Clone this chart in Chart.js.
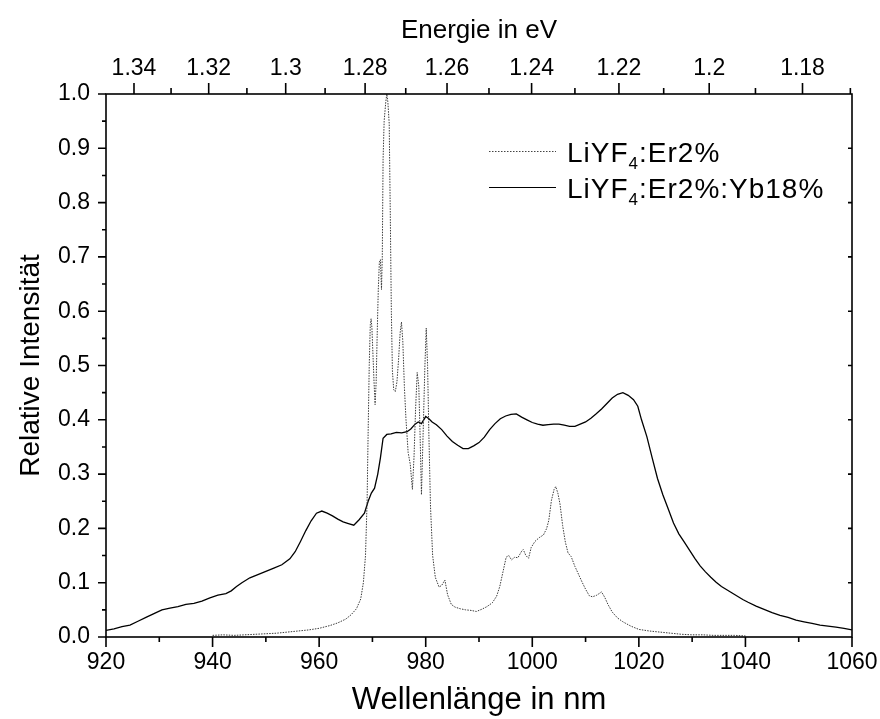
<!DOCTYPE html>
<html>
<head>
<meta charset="utf-8">
<script src="https://cdn.jsdelivr.net/npm/chart.js@4"></script>
<style>
  html, body { margin: 0; padding: 0; background: #fff; }
  #wrap { width: 880px; height: 719px; }
</style>
</head>
<body>
<div id="wrap"><canvas id="c" width="880" height="719"></canvas></div>
<script>
// ---- Data ----
const yb18_nm = [920.0,921.5,923.0,924.5,926.0,927.5,929.0,930.5,932.0,933.5,935.0,936.5,938.0,939.5,941.0,942.5,943.5,944.5,945.5,947.0,948.5,950.0,951.5,953.0,954.5,955.5,956.5,957.5,958.5,959.5,960.5,961.5,962.5,963.5,964.5,965.5,966.5,967.5,968.5,969.2,969.8,970.4,971.0,971.5,972.0,972.7,973.5,974.5,975.5,976.5,977.2,978.0,978.6,979.2,980.0,980.6,981.2,982.0,983.0,984.0,985.0,986.0,987.0,988.0,989.0,990.0,991.0,992.0,993.0,994.0,995.0,996.0,997.0,998.0,999.0,1000.0,1001.0,1002.0,1003.0,1004.0,1005.0,1006.0,1007.0,1008.0,1009.0,1010.0,1011.0,1012.0,1013.0,1014.0,1015.0,1016.0,1017.0,1018.0,1019.0,1019.8,1020.5,1021.5,1022.5,1023.5,1024.5,1025.5,1026.5,1027.5,1028.5,1029.5,1030.5,1031.5,1032.5,1033.5,1034.5,1035.5,1036.5,1037.5,1038.5,1039.5,1040.5,1042.0,1043.5,1045.0,1046.5,1048.0,1049.5,1051.0,1052.5,1054.0,1055.5,1057.0,1058.5,1060.0];
const yb18_val = [0.012,0.015,0.019,0.022,0.029,0.036,0.043,0.050,0.053,0.056,0.060,0.062,0.066,0.072,0.077,0.080,0.085,0.093,0.100,0.109,0.115,0.121,0.127,0.133,0.144,0.157,0.176,0.196,0.214,0.228,0.232,0.228,0.223,0.217,0.212,0.209,0.206,0.216,0.228,0.250,0.265,0.274,0.300,0.330,0.366,0.373,0.374,0.377,0.376,0.378,0.383,0.392,0.396,0.393,0.406,0.402,0.396,0.391,0.382,0.370,0.360,0.353,0.347,0.347,0.352,0.358,0.368,0.382,0.393,0.402,0.407,0.410,0.411,0.405,0.400,0.395,0.392,0.390,0.391,0.392,0.392,0.390,0.388,0.388,0.392,0.396,0.403,0.411,0.420,0.430,0.440,0.447,0.450,0.445,0.437,0.425,0.400,0.369,0.330,0.292,0.262,0.236,0.210,0.190,0.175,0.160,0.145,0.131,0.120,0.110,0.101,0.093,0.087,0.081,0.075,0.069,0.064,0.057,0.051,0.045,0.040,0.036,0.031,0.028,0.025,0.022,0.020,0.018,0.016,0.013];

const er2_nm = [940,942,944,946,948,950,952,954,956,958,960,962,963.5,965,966,967,967.8,968.3,968.7,969.0,969.2,969.4,969.6,969.75,969.9,970.1,970.3,970.5,970.7,970.9,971.1,971.3,971.5,971.7,971.85,972.0,972.2,972.5,972.7,972.9,973.15,973.35,973.55,973.75,974.0,974.3,974.6,974.9,975.2,975.45,975.7,976.0,976.3,976.7,977.1,977.5,977.8,978.1,978.4,978.7,978.95,979.2,979.5,979.85,980.1,980.35,980.6,980.9,981.3,981.8,982.5,983.0,983.6,984.1,984.8,985.5,986.5,987.5,988.5,989.5,990.5,991.5,992.5,993.3,993.9,994.5,995.1,995.6,996.1,996.7,997.3,998.0,998.3,998.8,999.3,999.8,1000.5,1001.3,1002.1,1002.7,1003.1,1003.6,1004.1,1004.4,1004.8,1005.2,1005.7,1006.2,1006.7,1007.3,1008.0,1008.7,1009.4,1010.0,1010.7,1011.3,1012.1,1013.0,1013.6,1014.2,1015.0,1016.0,1017.0,1018.5,1020,1022,1024,1026,1028,1030,1032,1034,1036,1038,1040];
const er2_val = [0.003,0.004,0.003,0.004,0.005,0.006,0.007,0.009,0.011,0.013,0.016,0.021,0.026,0.033,0.041,0.052,0.070,0.100,0.150,0.250,0.380,0.500,0.575,0.586,0.570,0.520,0.470,0.428,0.470,0.560,0.640,0.690,0.695,0.640,0.700,0.880,0.950,0.985,1.000,0.985,0.945,0.780,0.600,0.490,0.455,0.452,0.470,0.510,0.560,0.580,0.545,0.460,0.400,0.340,0.318,0.272,0.330,0.420,0.487,0.462,0.370,0.262,0.370,0.500,0.569,0.500,0.370,0.240,0.150,0.110,0.092,0.095,0.105,0.078,0.060,0.055,0.052,0.050,0.049,0.047,0.051,0.056,0.063,0.075,0.093,0.120,0.147,0.150,0.142,0.147,0.146,0.158,0.161,0.150,0.145,0.165,0.176,0.183,0.188,0.200,0.215,0.252,0.272,0.277,0.265,0.245,0.205,0.175,0.155,0.148,0.130,0.115,0.100,0.088,0.076,0.074,0.077,0.083,0.073,0.060,0.046,0.035,0.028,0.020,0.014,0.011,0.009,0.007,0.005,0.004,0.004,0.003,0.003,0.003,0.002];

const seriesNames = ['LiYF4:Er2%', 'LiYF4:Er2%:Yb18%'];
const wlTicks = [920, 940, 960, 980, 1000, 1020, 1040, 1060];
const wlMinor = [930, 950, 970, 990, 1010, 1030, 1050];
const intTicks = [0.0, 0.1, 0.2, 0.3, 0.4, 0.5, 0.6, 0.7, 0.8, 0.9, 1.0];
const eTicks = [1.34, 1.32, 1.30, 1.28, 1.26, 1.24, 1.22, 1.20, 1.18];
const eMinor = [1.33, 1.31, 1.29, 1.27, 1.25, 1.23, 1.21, 1.19, 1.17];
const HC = 1239.84; // eV*nm

const FONT = "'Liberation Sans', Arial, sans-serif";

function pts(xs, ys) { return xs.map((x, i) => ({ x: x, y: ys[i] })); }
function noPad(s) { s.paddingLeft = 0; s.paddingRight = 0; s.paddingTop = 0; s.paddingBottom = 0; }

// Draw frame, minor/major ticks and legend
const decor = {
  id: 'decor',
  afterDraw(chart) {
    const ctx = chart.ctx;
    const a = chart.chartArea;
    const sx = chart.scales.x, sy = chart.scales.y;
    ctx.save();
    ctx.strokeStyle = '#000';
    ctx.lineWidth = 1.6;
    ctx.strokeRect(a.left, a.top, a.right - a.left, a.bottom - a.top);
    ctx.beginPath();
    wlTicks.forEach(v => { const p = sx.getPixelForValue(v); ctx.moveTo(p, a.bottom); ctx.lineTo(p, a.bottom + 10); });
    wlMinor.forEach(v => { const p = sx.getPixelForValue(v); ctx.moveTo(p, a.bottom); ctx.lineTo(p, a.bottom + 5); });
    eTicks.forEach(e => { const p = sx.getPixelForValue(HC / e); ctx.moveTo(p, a.top); ctx.lineTo(p, a.top - 11); });
    eMinor.forEach(e => { const p = sx.getPixelForValue(HC / e); ctx.moveTo(p, a.top); ctx.lineTo(p, a.top - 6); });
    intTicks.forEach(v => { const p = sy.getPixelForValue(v); ctx.moveTo(a.left, p); ctx.lineTo(a.left - 8, p); });
    for (let k = 0; k < 10; k++) { const p = sy.getPixelForValue(intTicks[k] + 0.05); ctx.moveTo(a.left, p); ctx.lineTo(a.left - 4, p); }
    intTicks.slice(1, 10).forEach(v => { const p = sy.getPixelForValue(v); ctx.moveTo(a.right, p); ctx.lineTo(a.right - 4, p); });
    ctx.stroke();

    // legend
    const lx0 = 489, lx1 = 556, tx = 567;
    const rows = [{ y: 151.5, dash: [1.5, 1.5], w: 1, col: '#444', tail: ':Er2%' },
                  { y: 187.5, dash: [], w: 1, col: '#000', tail: ':Er2%:Yb18%' }];
    rows.forEach(r => {
      ctx.beginPath();
      ctx.setLineDash(r.dash);
      ctx.lineWidth = r.w;
      ctx.strokeStyle = r.col;
      ctx.moveTo(lx0, r.y); ctx.lineTo(lx1, r.y);
      ctx.stroke();
      ctx.setLineDash([]);
      ctx.fillStyle = '#000';
      ctx.textBaseline = 'alphabetic';
      ctx.textAlign = 'left';
      ctx.letterSpacing = '1px';
      ctx.font = '28px ' + FONT;
      let x = tx; const base = Math.round(r.y) + 10;
      ctx.fillText('LiYF', x, base); x += ctx.measureText('LiYF').width;
      ctx.font = '17px ' + FONT;
      ctx.fillText('4', x, base + 7); x += ctx.measureText('4').width;
      ctx.font = '28px ' + FONT;
      ctx.fillText(r.tail, x, base);
    });
    ctx.restore();
  }
};

new Chart(document.getElementById('c'), {
  type: 'line',
  data: {
    datasets: [
      { label: seriesNames[0], data: pts(er2_nm, er2_val), borderColor: '#3a3a3a', borderWidth: 1, borderDash: [1.5, 1.2], pointRadius: 0, fill: false, tension: 0 },
      { label: seriesNames[1], data: pts(yb18_nm, yb18_val), borderColor: '#000', borderWidth: 1.3, pointRadius: 0, fill: false, tension: 0 }
    ]
  },
  options: {
    responsive: false,
    animation: false,
    devicePixelRatio: 1,
    layout: { padding: 0 },
    plugins: { legend: { display: false }, tooltip: { enabled: false } },
    scales: {
      x: {
        type: 'linear', position: 'bottom', min: 920, max: 1060,
        afterBuildTicks: s => { s.ticks = wlTicks.map(v => ({ value: v })); },
        afterFit: s => { s.height = 82; noPad(s); },
        grid: { display: false, drawTicks: false },
        border: { display: false },
        ticks: { color: '#000', font: { family: FONT, size: 23 }, padding: 12, maxRotation: 0, autoSkip: false,
                 callback: v => String(v) },
        title: { display: true, text: 'Wellenlänge in nm', color: '#000', font: { family: FONT, size: 31 }, padding: { top: 0, bottom: 0 } }
      },
      x2: {
        type: 'linear', position: 'top', min: 920, max: 1060,
        afterBuildTicks: s => { s.ticks = eTicks.map(e => ({ value: HC / e })); },
        afterFit: s => { s.height = 94; noPad(s); },
        grid: { display: false, drawTicks: false },
        border: { display: false },
        ticks: { color: '#000', font: { family: FONT, size: 23 }, padding: 12, maxRotation: 0, autoSkip: false,
                 callback: v => String(parseFloat((HC / v).toFixed(2))) },
        title: { display: true, text: 'Energie in eV', color: '#000', font: { family: FONT, size: 26 }, padding: { top: 15, bottom: 0 } }
      },
      y: {
        type: 'linear', position: 'left', min: 0, max: 1,
        afterBuildTicks: s => { s.ticks = intTicks.map(v => ({ value: v })); },
        afterFit: s => { s.width = 106; noPad(s); },
        grid: { display: false, drawTicks: false },
        border: { display: false },
        ticks: { color: '#000', font: { family: FONT, size: 23 }, padding: 16, callback: v => v.toFixed(1) },
        title: { display: true, text: 'Relative Intensität', color: '#000', font: { family: FONT, size: 28 }, padding: { top: 14, bottom: 0 } }
      },
      y2: {
        type: 'linear', position: 'right', min: 0, max: 1,
        afterFit: s => { s.width = 28; noPad(s); },
        grid: { display: false, drawTicks: false },
        border: { display: false },
        ticks: { display: false }
      }
    }
  },
  plugins: [decor]
});
</script>
</body>
</html>
